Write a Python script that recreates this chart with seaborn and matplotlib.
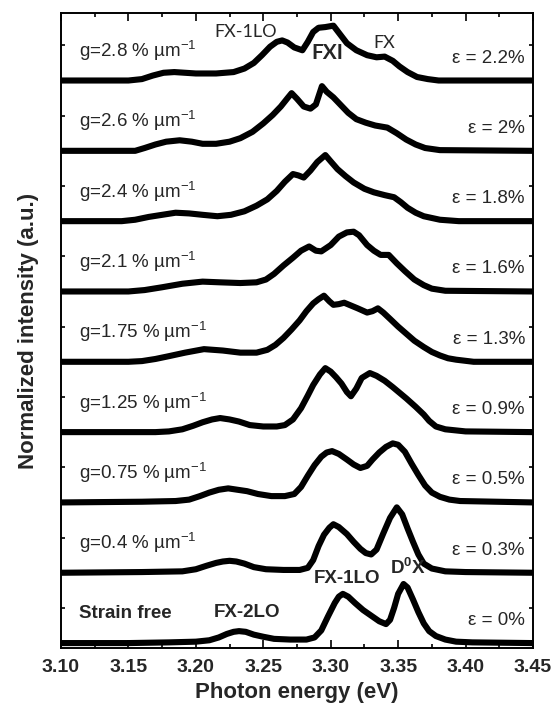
import numpy as np
import pandas as pd
import matplotlib
matplotlib.use("Agg")
import matplotlib.pyplot as plt
import seaborn as sns
from matplotlib.ticker import MultipleLocator

# ---------------- data ----------------
g_labels = ["Strain free", "g=0.4 % µm$^{-1}$", "g=0.75 % µm$^{-1}$", "g=1.25 % µm$^{-1}$",
            "g=1.75 % µm$^{-1}$", "g=2.1 % µm$^{-1}$", "g=2.4 % µm$^{-1}$",
            "g=2.6 % µm$^{-1}$", "g=2.8 % µm$^{-1}$"]
strain_labels = ["ε = 0%", "ε = 0.3%", "ε = 0.5%", "ε = 0.9%", "ε = 1.3%",
                 "ε = 1.6%", "ε = 1.8%", "ε = 2%", "ε = 2.2%"]

E0 = [3.100, 3.150, 3.180, 3.200, 3.210, 3.217, 3.223, 3.228, 3.232, 3.237, 3.243, 3.250,
      3.258, 3.270, 3.282, 3.288, 3.293, 3.298, 3.303, 3.306, 3.309, 3.313, 3.318, 3.324,
      3.330, 3.336, 3.341, 3.344, 3.347, 3.350, 3.354, 3.357, 3.361, 3.365, 3.369, 3.373,
      3.378, 3.385, 3.393, 3.405, 3.450]
I0 = [0.00, 0.00, 0.01, 0.02, 0.04, 0.08, 0.13, 0.16, 0.17, 0.16, 0.12, 0.09,
      0.06, 0.05, 0.05, 0.08, 0.18, 0.38, 0.57, 0.66, 0.70, 0.66, 0.57, 0.47,
      0.39, 0.31, 0.27, 0.33, 0.50, 0.70, 0.84, 0.79, 0.62, 0.44, 0.28, 0.17,
      0.10, 0.05, 0.02, 0.01, 0.00]

E1 = [3.100, 3.160, 3.190, 3.200, 3.208, 3.215, 3.220, 3.225, 3.230, 3.236, 3.243, 3.252,
      3.265, 3.277, 3.283, 3.287, 3.291, 3.295, 3.299, 3.302, 3.306, 3.312, 3.317, 3.322,
      3.326, 3.330, 3.334, 3.339, 3.344, 3.349, 3.353, 3.357, 3.361, 3.365, 3.369, 3.375,
      3.385, 3.400, 3.450]
I1 = [0.00, 0.01, 0.02, 0.05, 0.10, 0.14, 0.16, 0.17, 0.16, 0.13, 0.08, 0.05,
      0.04, 0.04, 0.07, 0.18, 0.38, 0.54, 0.64, 0.69, 0.65, 0.55, 0.44, 0.34,
      0.28, 0.26, 0.33, 0.56, 0.78, 0.93, 0.83, 0.63, 0.44, 0.26, 0.13, 0.06,
      0.02, 0.01, 0.00]

E2 = [3.100, 3.160, 3.185, 3.195, 3.203, 3.210, 3.217, 3.224, 3.231, 3.238, 3.246, 3.256,
      3.266, 3.273, 3.278, 3.283, 3.288, 3.293, 3.297, 3.301, 3.306, 3.312, 3.317, 3.322,
      3.327, 3.331, 3.336, 3.341, 3.346, 3.350, 3.355, 3.360, 3.365, 3.370, 3.375, 3.381,
      3.388, 3.396, 3.450]
I2 = [0.00, 0.01, 0.02, 0.04, 0.09, 0.14, 0.18, 0.20, 0.18, 0.16, 0.12, 0.09,
      0.09, 0.12, 0.22, 0.38, 0.53, 0.65, 0.71, 0.73, 0.69, 0.61, 0.54, 0.49,
      0.52, 0.61, 0.71, 0.79, 0.84, 0.82, 0.72, 0.55, 0.39, 0.24, 0.14, 0.08,
      0.04, 0.02, 0.00]

E3 = [3.100, 3.170, 3.180, 3.190, 3.198, 3.205, 3.212, 3.218, 3.225, 3.232, 3.240, 3.250,
      3.260, 3.266, 3.272, 3.278, 3.283, 3.287, 3.292, 3.296, 3.300, 3.304, 3.308, 3.312,
      3.315, 3.319, 3.323, 3.329, 3.334, 3.340, 3.346, 3.351, 3.356, 3.363, 3.369, 3.373,
      3.378, 3.385, 3.400, 3.450]
I3 = [0.00, 0.00, 0.01, 0.04, 0.09, 0.14, 0.18, 0.20, 0.18, 0.15, 0.10, 0.08,
      0.08, 0.10, 0.18, 0.34, 0.52, 0.67, 0.82, 0.91, 0.86, 0.78, 0.69, 0.57,
      0.51, 0.62, 0.77, 0.84, 0.80, 0.73, 0.64, 0.56, 0.48, 0.36, 0.25, 0.16,
      0.08, 0.04, 0.01, 0.00]

E4 = [3.100, 3.150, 3.160, 3.170, 3.180, 3.192, 3.206, 3.220, 3.233, 3.245, 3.253, 3.259,
      3.265, 3.271, 3.277, 3.282, 3.287, 3.291, 3.295, 3.299, 3.302, 3.306, 3.310, 3.315,
      3.320, 3.327, 3.331, 3.335, 3.339, 3.344, 3.350, 3.356, 3.362, 3.369, 3.375, 3.381,
      3.387, 3.393, 3.406, 3.450]
I4 = [0.00, 0.00, 0.01, 0.04, 0.08, 0.13, 0.18, 0.16, 0.13, 0.13, 0.17, 0.24,
      0.34, 0.46, 0.59, 0.72, 0.83, 0.89, 0.94, 0.86, 0.81, 0.82, 0.84, 0.80,
      0.76, 0.70, 0.72, 0.76, 0.70, 0.61, 0.50, 0.40, 0.30, 0.21, 0.14, 0.09,
      0.05, 0.03, 0.00, 0.00]

E5 = [3.100, 3.150, 3.162, 3.175, 3.190, 3.205, 3.218, 3.233, 3.245, 3.252, 3.258, 3.265,
      3.272, 3.278, 3.284, 3.289, 3.293, 3.300, 3.306, 3.312, 3.317, 3.321, 3.327, 3.332,
      3.337, 3.343, 3.349, 3.355, 3.362, 3.369, 3.375, 3.385, 3.450]
I5 = [0.00, 0.00, 0.02, 0.06, 0.11, 0.14, 0.13, 0.12, 0.13, 0.17, 0.25, 0.37,
      0.48, 0.58, 0.64, 0.58, 0.57, 0.66, 0.78, 0.84, 0.85, 0.80, 0.66, 0.58,
      0.52, 0.52, 0.40, 0.29, 0.17, 0.09, 0.04, 0.01, 0.00]

E6 = [3.100, 3.145, 3.155, 3.165, 3.175, 3.185, 3.195, 3.205, 3.216, 3.226, 3.236, 3.245,
      3.253, 3.260, 3.266, 3.272, 3.276, 3.280, 3.285, 3.290, 3.296, 3.300, 3.305, 3.311,
      3.317, 3.325, 3.332, 3.340, 3.347, 3.352, 3.357, 3.363, 3.369, 3.381, 3.395, 3.450]
I6 = [0.00, 0.00, 0.02, 0.06, 0.09, 0.12, 0.11, 0.09, 0.07, 0.09, 0.14, 0.22,
      0.31, 0.43, 0.56, 0.67, 0.65, 0.62, 0.72, 0.84, 0.94, 0.85, 0.74, 0.64,
      0.55, 0.46, 0.41, 0.37, 0.34, 0.27, 0.19, 0.12, 0.07, 0.02, 0.00, 0.00]

E7 = [3.100, 3.155, 3.162, 3.170, 3.178, 3.188, 3.197, 3.205, 3.215, 3.225, 3.233, 3.242,
      3.250, 3.257, 3.263, 3.268, 3.271, 3.275, 3.280, 3.285, 3.289, 3.2935, 3.297, 3.302,
      3.307, 3.313, 3.319, 3.326, 3.333, 3.342, 3.349, 3.356, 3.363, 3.370, 3.381, 3.450]
I7 = [0.00, 0.00, 0.04, 0.09, 0.13, 0.15, 0.13, 0.10, 0.10, 0.13, 0.18, 0.27,
      0.39, 0.51, 0.63, 0.75, 0.82, 0.74, 0.63, 0.60, 0.66, 0.92, 0.84, 0.76,
      0.66, 0.54, 0.45, 0.40, 0.36, 0.33, 0.25, 0.16, 0.09, 0.04, 0.01, 0.00]

E8 = [3.100, 3.150, 3.160, 3.168, 3.176, 3.184, 3.192, 3.200, 3.215, 3.228, 3.236, 3.243,
      3.249, 3.255, 3.260, 3.264, 3.268, 3.273, 3.279, 3.283, 3.287, 3.291, 3.296, 3.302,
      3.306, 3.312, 3.319, 3.327, 3.334, 3.340, 3.346, 3.351, 3.357, 3.364, 3.372, 3.380,
      3.450]
I8 = [0.00, 0.00, 0.02, 0.07, 0.11, 0.12, 0.11, 0.10, 0.10, 0.12, 0.17, 0.25,
      0.36, 0.48, 0.55, 0.57, 0.54, 0.47, 0.43, 0.55, 0.69, 0.75, 0.76, 0.78,
      0.68, 0.53, 0.43, 0.36, 0.33, 0.34, 0.28, 0.20, 0.12, 0.05, 0.02, 0.00,
      0.00]

energies = [E0, E1, E2, E3, E4, E5, E6, E7, E8]
intensities = [I0, I1, I2, I3, I4, I5, I6, I7, I8]

x_ticks = [3.10, 3.15, 3.20, 3.25, 3.30, 3.35, 3.40, 3.45]

# ---------------- style ----------------
sns.set_theme(style="ticks")
plt.rcParams["font.family"] = ["Liberation Sans", "DejaVu Sans"]
plt.rcParams["mathtext.fontset"] = "custom"
plt.rcParams["mathtext.rm"] = "Liberation Sans"
plt.rcParams["mathtext.it"] = "Liberation Sans:italic"
plt.rcParams["mathtext.bf"] = "Liberation Sans:bold"

rows = []
for k, (e, i) in enumerate(zip(energies, intensities)):
    for xe, yi in zip(e, i):
        rows.append({"energy": xe, "signal": yi + k, "spectrum": k})
df = pd.DataFrame(rows)

fig = plt.figure(figsize=(5.54, 7.12), dpi=100)
ax = fig.add_axes([61 / 554, 1 - 648 / 712, 472 / 554, 635 / 712])

sns.lineplot(data=df, x="energy", y="signal", units="spectrum", estimator=None,
             sort=False, color="black", lw=4.4, ax=ax, legend=False)
for ln in ax.lines:
    ln.set_solid_joinstyle("round")
    ln.set_solid_capstyle("round")

ax.set_xlim(3.10, 3.45)
ax.set_ylim(-0.07, 8.96)
ax.set_xticks(x_ticks)
ax.set_xticklabels([f"{t:.2f}" for t in x_ticks], fontsize=14, fontweight="bold")
ax.xaxis.set_minor_locator(MultipleLocator(0.025))
ax.yaxis.set_major_locator(MultipleLocator(1))
ax.yaxis.set_minor_locator(MultipleLocator(0.5))
ax.set_yticklabels([])
ax.tick_params(which="both", direction="in", top=True, right=True, width=1.2, color="black")
ax.tick_params(which="major", length=5.5)
ax.tick_params(which="minor", length=3)
ax.tick_params(axis="x", which="major", pad=8)
for s in ax.spines.values():
    s.set_linewidth(1.4)
    s.set_color("black")

ax.set_xlabel("Photon energy (eV)", fontsize=16, fontweight="bold", labelpad=4)
ax.set_ylabel("Normalized intensity (a.u.)", fontsize=16, fontweight="bold", labelpad=12)

for k in range(len(g_labels)):
    ax.text(3.113, k + 0.42, g_labels[k], fontsize=13.5,
            fontweight="bold" if k == 0 else "normal", ha="left", va="center")
    ax.text(3.444, k + 0.32, strain_labels[k], fontsize=13.5, ha="right", va="center")

ax.text(3.237, 8.69, "FX-1LO", fontsize=13, ha="center", va="center", family=["Lato", "DejaVu Sans"])
ax.text(3.2975, 8.39, "FXI", fontsize=15, fontweight="bold", ha="center", va="center",
        family=["Lato", "DejaVu Sans"])
ax.text(3.340, 8.53, "FX", fontsize=13, ha="center", va="center", family=["Lato", "DejaVu Sans"])
ax.text(3.238, 0.44, "FX-2LO", fontsize=13.5, fontweight="bold", ha="center", va="center")
ax.text(3.312, 0.92, "FX-1LO", fontsize=13.5, fontweight="bold", ha="center", va="center")
ax.text(3.357, 1.07, r"D$^{\mathbf{0}}$X", fontsize=13.5, fontweight="bold", ha="center", va="center")

fig.savefig("out.png", dpi=100)
